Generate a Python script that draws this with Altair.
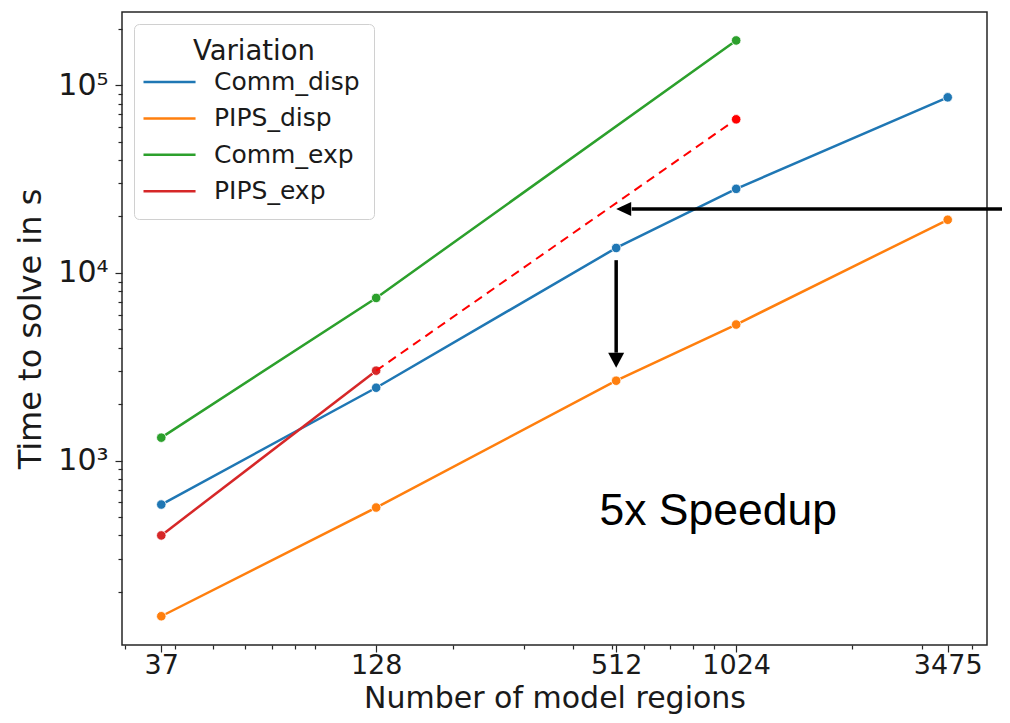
import altair as alt
import pandas as pd

# ---------------- data ----------------
series = ["Comm_disp", "PIPS_disp", "Comm_exp", "PIPS_exp"]
colors = ["#1f77b4", "#ff7f0e", "#2ca02c", "#d62728"]

regions_disp = [37, 128, 512, 1024, 3475]
comm_disp = [583, 2445, 13590, 28070, 86300]
pips_disp = [148, 562, 2665, 5310, 19210]

regions_comm_exp = [37, 128, 1024]
comm_exp = [1325, 7360, 173500]

regions_pips_exp = [37, 128]
pips_exp = [399, 3015]

# extrapolated PIPS_exp (dashed red)
ext_regions = [128, 1024]
ext_values = [3015, 65900]

# tick values
x_major = [37, 128, 512, 1024, 3475]
x_minor = [30, 40, 50, 60, 70, 80, 90, 200, 300, 400, 500, 600, 700, 800, 900,
           2000, 3000, 4000]
y_major = [1000, 10000, 100000]
y_minor = [200, 300, 400, 500, 600, 700, 800, 900,
           2000, 3000, 4000, 5000, 6000, 7000, 8000, 9000,
           20000, 30000, 40000, 50000, 60000, 70000, 80000, 90000, 200000]

# annotations (data units)
h_arrow_y = [21900]
h_arrow_tip_x = [512]
h_arrow_base_x = [560]
h_arrow_end_x = [5000]
v_arrow_x = [512]
v_arrow_start_y = [11700]
v_arrow_base_y = [3760]
v_arrow_tip_y = [3124]
note_text = ["5x Speedup"]
note_x = [465]
note_y = [452]

# ---------------- tables ----------------
rows = []
for n, v in zip(regions_disp, comm_disp):
    rows.append({"regions": n, "time": v, "Variation": "Comm_disp"})
for n, v in zip(regions_disp, pips_disp):
    rows.append({"regions": n, "time": v, "Variation": "PIPS_disp"})
for n, v in zip(regions_comm_exp, comm_exp):
    rows.append({"regions": n, "time": v, "Variation": "Comm_exp"})
for n, v in zip(regions_pips_exp, pips_exp):
    rows.append({"regions": n, "time": v, "Variation": "PIPS_exp"})
df = pd.DataFrame(rows)

ext_df = pd.DataFrame({"regions": ext_regions, "time": ext_values})
ext_pt = ext_df.iloc[[-1]]

h_df = pd.DataFrame({"x": h_arrow_base_x, "x2": h_arrow_end_x, "y": h_arrow_y,
                     "tip": h_arrow_tip_x})
v_df = pd.DataFrame({"x": v_arrow_x, "y": v_arrow_start_y, "y2": v_arrow_base_y,
                     "tip": v_arrow_tip_y})
t_df = pd.DataFrame({"x": note_x, "y": note_y, "t": note_text})

# ---------------- scales / axes ----------------
FONT = "DejaVu Sans"
xmaj = "[" + ",".join(str(v) for v in x_major) + "]"
ymaj = "[" + ",".join(str(v) for v in y_major) + "]"

xscale = alt.Scale(type="log", domain=[29.49, 4360], nice=False)
yscale = alt.Scale(type="log", domain=[104, 246000], nice=False)

xaxis = alt.Axis(
    title="Number of model regions",
    values=sorted(x_major + x_minor),
    labelExpr=f"indexof({xmaj}, datum.value) >= 0 ? format(datum.value, 'd') : ''",
    tickSize={"condition": {"test": f"indexof({xmaj}, datum.value) >= 0", "value": 7},
              "value": 4},
    labelOverlap=False, labelFlush=False,
    labelFontSize=27, titleFontSize=30,
    labelPadding=0, titlePadding=5,
)
yaxis = alt.Axis(
    title="Time to solve in s",
    values=sorted(y_major + y_minor),
    labelExpr="datum.value == 1000 ? '10\u00b3' : datum.value == 10000 ? '10\u2074' : datum.value == 100000 ? '10\u2075' : ''",
    tickSize={"condition": {"test": f"indexof({ymaj}, datum.value) >= 0", "value": 7},
              "value": 4},
    labelOverlap=False, labelFlush=False,
    labelFontSize=30, titleFontSize=32,
    labelPadding=7, titlePadding=10,
)


def X(field):
    return alt.X(field, type="quantitative", scale=xscale, axis=xaxis)


def Y(field):
    return alt.Y(field, type="quantitative", scale=yscale, axis=yaxis)


color_scale = alt.Scale(domain=series, range=colors)

legend = alt.Legend(
    title="Variation", orient="top-left", offset=12,
    padding=14, fillColor="white", strokeColor="#d0d0d0", cornerRadius=5,
    titleFont=FONT, titleFontSize=27.5, titleFontWeight="normal", titleColor="#1a1a1a",
    titleAnchor="middle", titlePadding=0,
    labelFont=FONT, labelFontSize=25, labelColor="#1a1a1a",
    symbolType="M-1.4,0H2.07", symbolSize=900, symbolStrokeWidth=2.5,
    labelOffset=33, rowPadding=6.4,
)

lines = alt.Chart(df).mark_line(strokeWidth=2.5).encode(
    x=X("regions"), y=Y("time"),
    color=alt.Color("Variation:N", scale=color_scale, legend=legend, sort=series),
    detail="Variation:N",
)
points = alt.Chart(df).mark_point(filled=True, size=90, stroke="white",
                                  strokeWidth=0.8, opacity=1).encode(
    x=X("regions"), y=Y("time"),
    color=alt.Color("Variation:N", scale=color_scale, legend=None),
)

ext_line = alt.Chart(ext_df).mark_line(color="#ff0000", strokeWidth=2,
                                       strokeDash=[9, 6]).encode(
    x=X("regions"), y=Y("time"))
ext_point = alt.Chart(ext_pt).mark_point(filled=True, size=90, color="#ff0000",
                                         stroke="white", strokeWidth=0.8,
                                         opacity=1).encode(
    x=X("regions"), y=Y("time"))

h_line = alt.Chart(h_df).mark_rule(color="black", strokeWidth=3.5, clip=False).encode(
    x=X("x"), x2="x2", y=Y("y"))
h_head = alt.Chart(h_df).mark_point(shape="M0,0L3,-1.4L3,1.4Z", size=100, filled=True,
                                    color="black", opacity=1).encode(
    x=X("tip"), y=Y("y"))
v_line = alt.Chart(v_df).mark_rule(color="black", strokeWidth=3.5).encode(
    x=X("x"), y=Y("y"), y2="y2")
v_head = alt.Chart(v_df).mark_point(shape="M0,0L-1.6,-3L1.6,-3Z", size=100, filled=True,
                                    color="black", opacity=1).encode(
    x=X("x"), y=Y("tip"))

note = alt.Chart(t_df).mark_text(font="Liberation Sans", fontSize=44.5, color="black",
                                 align="left", baseline="alphabetic").encode(
    x=X("x"), y=Y("y"), text="t:N")

chart = alt.layer(
    lines, points, ext_line, ext_point, h_line, h_head, v_line, v_head, note
).properties(
    width=865, height=633,
    autosize=alt.AutoSizeParams(type="none"),
    padding={"left": 114, "top": 4, "right": 15, "bottom": 70},
).configure_view(
    stroke="#262626", strokeWidth=1.5
).configure_axis(
    domain=False, grid=False, tickColor="#262626", tickWidth=1.2,
    labelFont=FONT, titleFont=FONT, labelColor="#1a1a1a", titleColor="#1a1a1a",
    titleFontWeight="normal",
)

chart.save("out.html", embed_options={"renderer": "svg", "actions": False})
